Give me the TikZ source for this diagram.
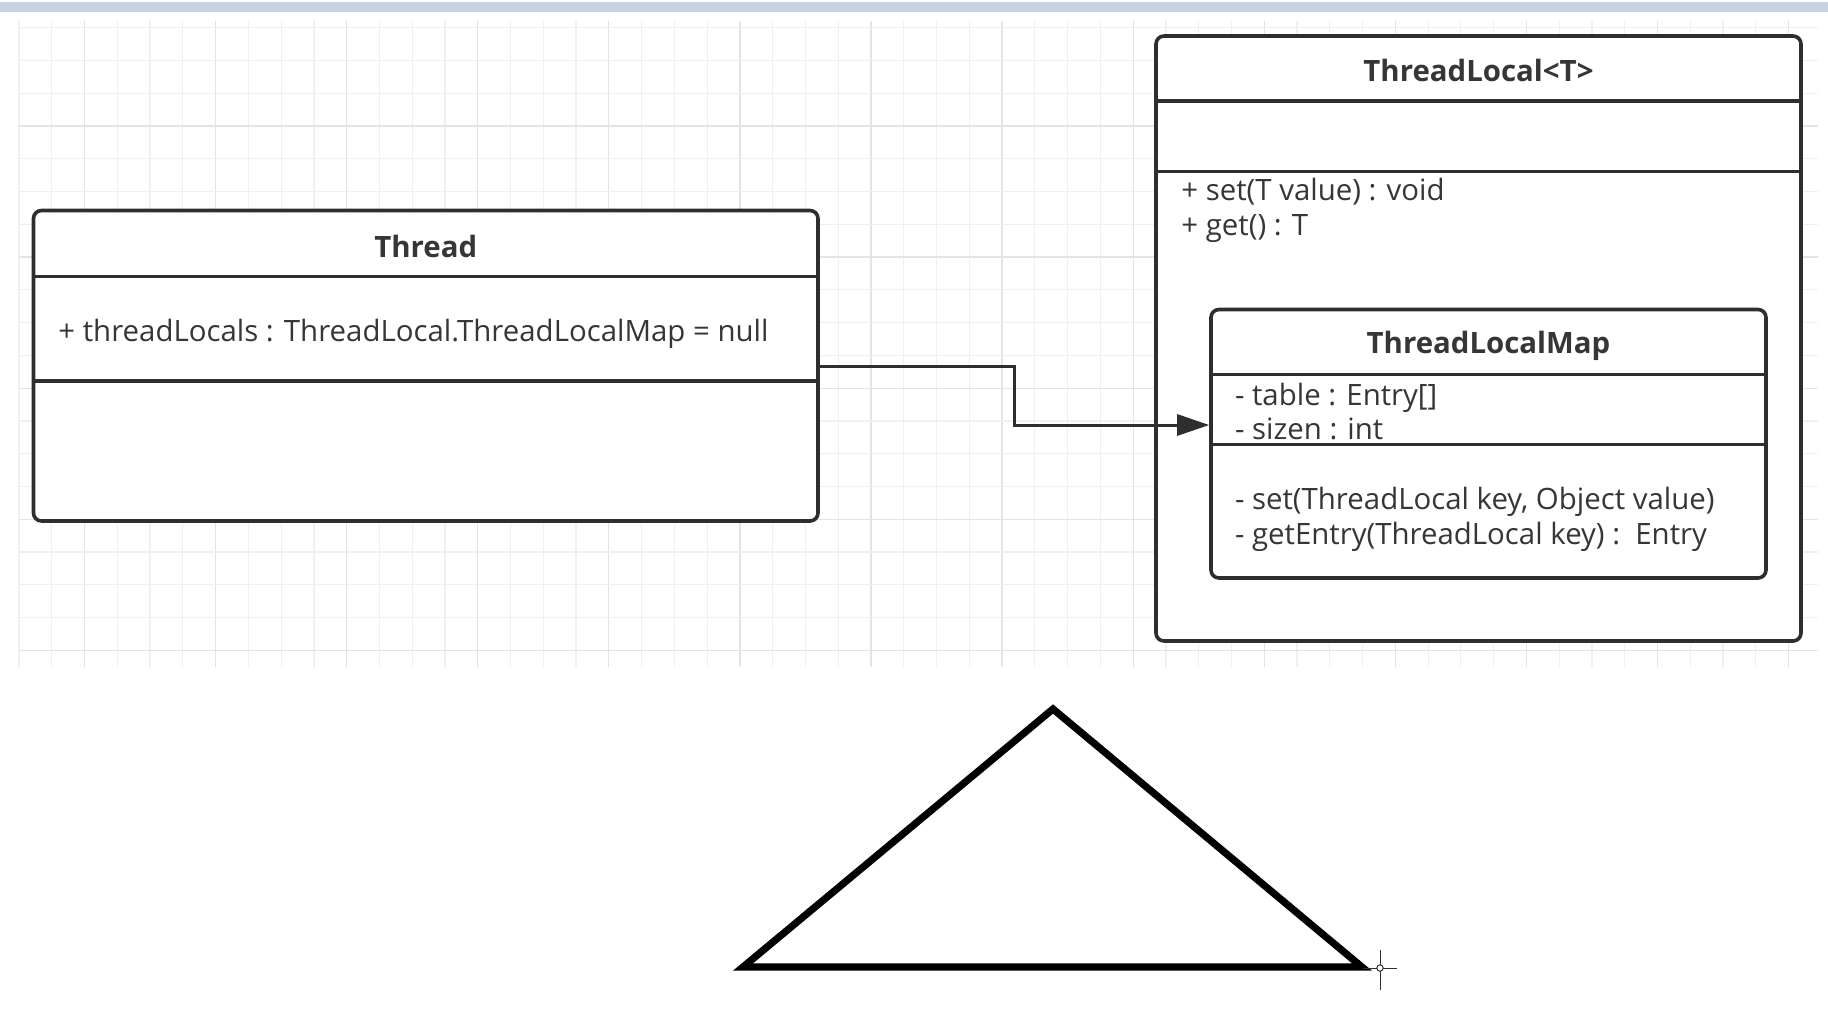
\documentclass[tikz,border=0pt]{standalone}
\usepackage{fontspec}
\setmainfont{Open Sans}
\usetikzlibrary{arrows.meta}
\definecolor{linegray}{HTML}{2E2E2E}
\definecolor{textgray}{HTML}{363636}
\definecolor{gridminor}{HTML}{F0F0F0}
\definecolor{gridmajor}{HTML}{E4E4E4}
\definecolor{barblue}{HTML}{C9D3E1}
\begin{document}
\begin{tikzpicture}[x=0.5pt,y=-0.5pt,
	umlbox/.style={draw=linegray,line width=1.8pt,fill=white,rounded corners=4pt,inner sep=0pt},
	umlline/.style={draw=linegray,line width=1.8pt},
	umltitle/.style={font=\bfseries\fontsize{14.7}{17.35}\selectfont,text=textgray,inner sep=0pt},
	umltext/.style={font=\fontsize{14.7}{17.35}\selectfont,text=textgray,anchor=west,align=left,inner sep=0pt},
	conn/.style={draw=linegray,line width=1.5pt,-{Triangle[length=16pt,width=10.5pt]}}]
	\useasboundingbox (0,0) rectangle (1828,1009);
	\fill[barblue] (0,1.5) rectangle (1828,11.5);
	\foreach \i in {0,...,54} \draw[gridminor,line width=0.6pt] ({19+32.77*\i},20.7) --({19+32.77*\i},667);
	\foreach \i in {0,...,13} \draw[gridmajor,line width=0.6pt] ({84.5+131.08*\i},20.7) --({84.5+131.08*\i},667);
	\foreach \j in {0,...,19} \draw[gridminor,line width=0.6pt] (19,{27.7+32.77*\j}) --(1818,{27.7+32.77*\j});
	\foreach \j in {0,...,4} \draw[gridmajor,line width=0.6pt] (19,{126+131.08*\j}) --(1818,{126+131.08*\j});

	\node[umlbox,minimum width=392.25pt,minimum height=155.25pt] (thread) at (425.75,365.75) {};
	\draw[umlline] (thread.west |- 0,276.3) --(thread.east |- 0,276.3);
	\draw[umlline] (thread.west |- 0,381) --(thread.east |- 0,381);
	\node[umltitle] (threadtitle) at (thread.north |- 0,246) {Thread};
	\node[umltext] (threadattr) at (58,333.5) {+ threadLocals : ThreadLocal.ThreadLocalMap = null};

	\node[umlbox,minimum width=322.5pt,minimum height=302.5pt] (local) at (1478.5,338.5) {};
	\draw[umlline] (local.west |- 0,101) --(local.east |- 0,101);
	\draw[umlline] (local.west |- 0,171.3) --(local.east |- 0,171.3);
	\node[umltitle] (localtitle) at (local.north |- 0,70) {ThreadLocal<T>};
	\node[umltext] (localops) at (1181,210.5) {+ set(T value) : void\\+ get() : T};

	\node[umlbox,minimum width=277.5pt,minimum height=134.25pt] (map) at (1488.5,443.75) {};
	\draw[umlline] (map.west |- 0,374.3) --(map.east |- 0,374.3);
	\draw[umlline] (map.west |- 0,444.5) --(map.east |- 0,444.5);
	\node[umltitle] (maptitle) at (map.north |- 0,345.5) {ThreadLocalMap};
	\node[umltext] (mapattr) at (1234.6,411.5) {- table : Entry[]\\- sizen : int};
	\node[umltext] (mapops) at (1234.6,519) {- set(ThreadLocal key, Object value)\\- getEntry(ThreadLocal key) :~~Entry};

	\coordinate (bend) at (1014,366);
	\draw[conn] (thread.east |- bend) --(bend) |- (map.west |- 0,425);

	\draw[black,line width=3.6pt,line join=miter] (743,967) --(1053,709) --(1362,967) --cycle;
	\draw[linegray,line width=0.5pt] (1380,950) --(1380,990) (1363,968) --(1397,968);
	\draw[linegray,line width=0.5pt,fill=white] (1380,968) circle (1.6pt);
\end{tikzpicture}
\end{document}
